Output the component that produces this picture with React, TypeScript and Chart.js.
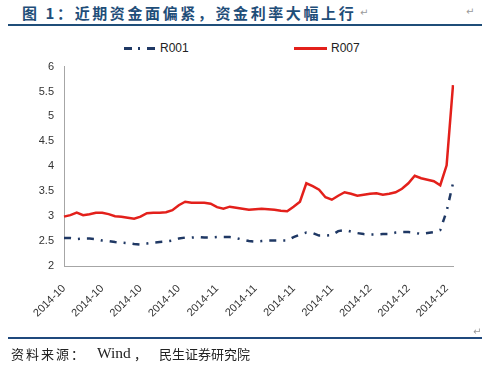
import React, { useEffect, useRef } from "react";
import { Chart, registerables } from "chart.js";

Chart.register(...registerables);

const categories = [
  "2014-10", "2014-10", "2014-10", "2014-10", "2014-10", "2014-10", "2014-10",
  "2014-10", "2014-10", "2014-10", "2014-10", "2014-10", "2014-10", "2014-10",
  "2014-10", "2014-10", "2014-10", "2014-10", "2014-10", "2014-10", "2014-10",
  "2014-11", "2014-11", "2014-11", "2014-11", "2014-11", "2014-11", "2014-11",
  "2014-11", "2014-11", "2014-11", "2014-11", "2014-11", "2014-11", "2014-11",
  "2014-11", "2014-11", "2014-11", "2014-11", "2014-11", "2014-11", "2014-11",
  "2014-11", "2014-11",
  "2014-12", "2014-12", "2014-12", "2014-12", "2014-12", "2014-12", "2014-12",
  "2014-12", "2014-12", "2014-12", "2014-12", "2014-12", "2014-12", "2014-12",
  "2014-12", "2014-12", "2014-12", "2014-12",
];

const labelEvery = 6;

const r001 = [
  2.56, 2.56, 2.54, 2.55, 2.55, 2.54, 2.51, 2.50, 2.48, 2.47,
  2.46, 2.44, 2.43, 2.45, 2.47, 2.48, 2.49, 2.51, 2.55, 2.57,
  2.57, 2.58, 2.57, 2.57, 2.58, 2.58, 2.58, 2.56, 2.53, 2.50,
  2.49, 2.50, 2.51, 2.51, 2.51, 2.51, 2.58, 2.63, 2.67, 2.66,
  2.61, 2.61, 2.62, 2.70, 2.72, 2.69, 2.66, 2.64, 2.63, 2.63,
  2.64, 2.64, 2.67, 2.68, 2.68, 2.67, 2.64, 2.66, 2.68, 2.72,
  3.10, 3.66,
];

const r007 = [
  2.99, 3.02, 3.07, 3.02, 3.04, 3.07, 3.07, 3.04, 3.00, 2.99,
  2.97, 2.95, 2.99, 3.06, 3.07, 3.07, 3.08, 3.12, 3.22, 3.29,
  3.27, 3.27, 3.27, 3.25, 3.18, 3.15, 3.19, 3.17, 3.15, 3.13,
  3.14, 3.15, 3.14, 3.13, 3.11, 3.10, 3.19, 3.29, 3.66, 3.60,
  3.53, 3.38, 3.33, 3.41, 3.48, 3.45, 3.41, 3.43, 3.45, 3.46,
  3.43, 3.45, 3.48, 3.55, 3.66, 3.81, 3.76, 3.73, 3.70, 3.62,
  4.02, 5.63,
];

const yMin = 2;
const yMax = 6;
const yStep = 0.5;

const BLUE = "#1F3864";
const RED = "#E3201B";
const AXIS = "#A6A6A6";
const TICK_FONT = { family: "'Liberation Sans', Arial, sans-serif", size: 11 };

export default function App() {
  const ref = useRef<HTMLCanvasElement>(null);

  useEffect(() => {
    const chart = new Chart(ref.current!, {
      type: "line",
      data: {
        labels: categories,
        datasets: [
          {
            label: "R001",
            data: r001,
            borderColor: BLUE,
            backgroundColor: BLUE,
            borderWidth: 2.5,
            borderDash: [7, 7, 2, 7],
            pointRadius: 0,
            tension: 0,
          },
          {
            label: "R007",
            data: r007,
            borderColor: RED,
            backgroundColor: RED,
            borderWidth: 2.5,
            pointRadius: 0,
            tension: 0,
          },
        ],
      },
      options: {
        animation: false,
        responsive: false,
        maintainAspectRatio: false,
        layout: { padding: { left: 0, top: 13, right: 31, bottom: 0 } },
        plugins: { legend: { display: false }, tooltip: { enabled: false } },
        scales: {
          x: {
            grid: { display: false, drawTicks: false },
            border: { display: true, color: AXIS, width: 1 },
            ticks: {
              autoSkip: false,
              maxRotation: 45,
              minRotation: 45,
              padding: 16,
              color: "#333",
              font: TICK_FONT,
              callback: (_v: any, i: number) => (i % labelEvery === 0 ? categories[i] : ""),
            },
            afterFit: (s: any) => {
              s.height = 110;
            },
          },
          y: {
            min: yMin,
            max: yMax,
            grid: { display: false, drawTicks: false },
            border: { display: true, color: AXIS, width: 1 },
            ticks: {
              stepSize: yStep,
              padding: 10,
              color: "#333",
              font: TICK_FONT,
              callback: (v: any) => String(Math.round(Number(v) * 10) / 10),
            },
            afterFit: (s: any) => {
              s.width = 64;
            },
          },
        },
      },
    });
    return () => chart.destroy();
  }, []);

  const cjk = "'Noto Sans CJK SC', sans-serif";
  const mark: React.CSSProperties = {
    position: "absolute",
    fontSize: 10,
    color: "#9a9a9a",
    fontFamily: "'DejaVu Sans', sans-serif",
    lineHeight: "12px",
  };
  const foot: React.CSSProperties = {
    position: "absolute",
    top: 345,
    fontFamily: cjk,
    fontSize: 13,
    lineHeight: "18px",
    color: "#222",
    whiteSpace: "nowrap",
  };

  return (
    <div
      style={{
        position: "absolute",
        left: 0,
        top: 0,
        width: 484,
        height: 376,
        background: "#fff",
        overflow: "hidden",
      }}
    >
      <div
        style={{
          position: "absolute",
          left: 22,
          top: 3,
          fontFamily: cjk,
          fontWeight: 700,
          fontSize: 15,
          letterSpacing: 2.6,
          color: "#1F4E79",
          lineHeight: "20px",
          whiteSpace: "nowrap",
        }}
      >
        图 1：近期资金面偏紧，资金利率大幅上行
      </div>
      <div style={{ ...mark, left: 360, top: 7 }}>↵</div>
      <div style={{ ...mark, left: 466, top: 6 }}>↵</div>
      <div
        style={{
          position: "absolute",
          left: 8,
          top: 24,
          width: 474,
          height: 2,
          background: "#1F4E79",
        }}
      />

      {/* legend */}
      <div style={{ position: "absolute", left: 124, top: 47, width: 8, height: 2.5, background: BLUE }} />
      <div style={{ position: "absolute", left: 138, top: 47, width: 2, height: 2.5, background: BLUE }} />
      <div style={{ position: "absolute", left: 147, top: 47, width: 8, height: 2.5, background: BLUE }} />
      <div
        style={{
          position: "absolute",
          left: 160,
          top: 41,
          fontFamily: "'Liberation Sans', Arial, sans-serif",
          fontSize: 12,
          lineHeight: "14px",
          color: "#222",
        }}
      >
        R001
      </div>
      <div style={{ position: "absolute", left: 294, top: 47, width: 33, height: 2.5, background: RED }} />
      <div
        style={{
          position: "absolute",
          left: 331,
          top: 41,
          fontFamily: "'Liberation Sans', Arial, sans-serif",
          fontSize: 12,
          lineHeight: "14px",
          color: "#222",
        }}
      >
        R007
      </div>

      <canvas
        ref={ref}
        width={484}
        height={326}
        style={{ position: "absolute", left: 0, top: 50, width: 484, height: 326 }}
      />

      <div style={{ ...mark, left: 473, top: 326 }}>↵</div>
      <div
        style={{
          position: "absolute",
          left: 8,
          top: 337,
          width: 474,
          height: 2,
          background: "#1F497D",
        }}
      />
      <div style={{ ...foot, left: 11, letterSpacing: 2 }}>资料来源：</div>
      <div style={{ ...foot, left: 97, top: 344, fontFamily: "'Liberation Serif', serif", fontSize: 15.5 }}>Wind</div>
      <div style={{ ...foot, left: 134 }}>，</div>
      <div style={{ ...foot, left: 159, letterSpacing: 0 }}>民生证券研究院</div>
    </div>
  );
}
